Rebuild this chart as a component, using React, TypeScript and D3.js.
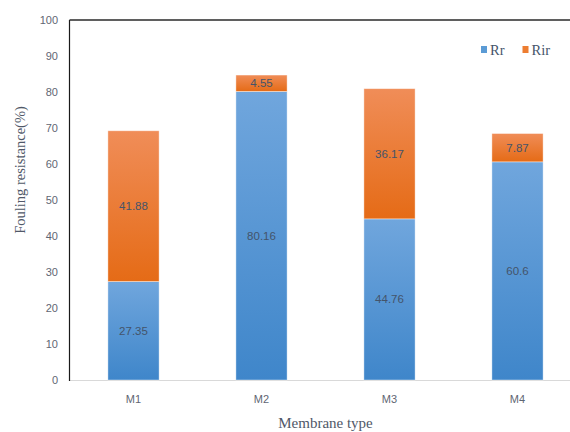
import React from "react";
import * as d3 from "d3";

const categories = ["M1", "M2", "M3", "M4"];
const rrValues = [27.35, 80.16, 44.76, 60.6];
const rirValues = [41.88, 4.55, 36.17, 7.87];
const rrLabels = ["27.35", "80.16", "44.76", "60.6"];
const rirLabels = ["41.88", "4.55", "36.17", "7.87"];
const yTicks = [0, 10, 20, 30, 40, 50, 60, 70, 80, 90, 100];
const seriesNames = ["Rr", "Rir"];

const W = 570;
const H = 432;
const left = 69.5;
const right = 581.5;
const top = 20;
const bottom = 380;

export default function App() {
  const x = d3
    .scaleBand<string>()
    .domain(categories)
    .range([left, right])
    .paddingInner(0.6)
    .paddingOuter(0.3);
  const y = d3.scaleLinear().domain([0, 100]).range([bottom, top]);

  const rows = categories.map((c, i) => ({ cat: c, Rr: rrValues[i], Rir: rirValues[i] }));
  const stack = d3.stack<any>().keys(seriesNames)(rows);
  const fills = ["url(#gBlue)", "url(#gOrange)"];
  const labels = [rrLabels, rirLabels];

  const sans = "'Liberation Sans', Arial, sans-serif";
  const serif = "'Liberation Serif', 'Times New Roman', serif";

  return (
    <svg
      width={W}
      height={H}
      style={{ position: "absolute", left: 0, top: 0, background: "#fff" }}
    >
      <defs>
        <linearGradient id="gBlue" x1="0" y1="0" x2="0" y2="1">
          <stop offset="0%" stopColor="#70a6dd" />
          <stop offset="100%" stopColor="#3f86ca" />
        </linearGradient>
        <linearGradient id="gOrange" x1="0" y1="0" x2="0" y2="1">
          <stop offset="0%" stopColor="#f08d58" />
          <stop offset="100%" stopColor="#e56b16" />
        </linearGradient>
      </defs>
      <style>{"body{margin:0}"}</style>

      {/* bottom axis */}
      <line x1={left} x2={W} y1={bottom + 0.5} y2={bottom + 0.5} stroke="#d9d9d9" strokeWidth={1} />

      {/* bars */}
      {stack.map((s, si) =>
        s.map((d, i) => {
          const x0 = x(categories[i])!;
          const y0 = y(d[1]);
          const y1 = y(d[0]);
          return (
            <g key={`${si}-${i}`}>
              <rect
                x={x0}
                y={y0}
                width={x.bandwidth()}
                height={y1 - y0}
                fill={fills[si]}
                stroke="#ffffff"
                strokeOpacity={0.5}
                strokeWidth={0.8}
              />
              <text
                x={x0 + x.bandwidth() / 2}
                y={(y0 + y1) / 2}
                dy="0.35em"
                textAnchor="middle"
                fontFamily={sans}
                fontSize={11.5}
                fill="#44546a"
              >
                {labels[si][i]}
              </text>
            </g>
          );
        })
      )}

      {/* left axis and top frame */}
      <line x1={left} x2={left} y1={top} y2={bottom + 1} stroke="#1a1a1a" strokeWidth={1.2} />
      <line x1={left} x2={W} y1={top} y2={top} stroke="#2a2a2a" strokeWidth={1.4} />

      {/* y ticks */}
      {yTicks.map((t) => (
        <text
          key={t}
          x={58}
          y={y(t)}
          dy="0.35em"
          textAnchor="end"
          fontFamily={sans}
          fontSize={11}
          fill="#5f6673"
        >
          {t}
        </text>
      ))}

      {/* x labels */}
      {categories.map((c) => (
        <text
          key={c}
          x={x(c)! + x.bandwidth() / 2}
          y={399}
          dy="0.35em"
          textAnchor="middle"
          fontFamily={sans}
          fontSize={11}
          fill="#5f6673"
        >
          {c}
        </text>
      ))}

      {/* axis titles */}
      <text
        x={(left + right) / 2}
        y={423}
        dy="0.35em"
        textAnchor="middle"
        fontFamily={serif}
        fontSize={15}
        fill="#505868"
      >
        Membrane type
      </text>
      <text
        transform={`translate(20,170) rotate(-90)`}
        dy="0.35em"
        textAnchor="middle"
        fontFamily={serif}
        fontSize={14.5}
        fill="#505868"
      >
        Fouling resistance(%)
      </text>

      {/* legend */}
      {seriesNames.map((n, i) => {
        const lx = i === 0 ? 481 : 522.5;
        return (
          <g key={n}>
            <rect x={lx} y={46} width={6} height={7} fill={i === 0 ? "#5b9bd5" : "#ed7d31"} />
            <text x={lx + 9} y={50} dy="0.35em" fontFamily={serif} fontSize={14.5} fill="#44546a">
              {n}
            </text>
          </g>
        );
      })}
    </svg>
  );
}
